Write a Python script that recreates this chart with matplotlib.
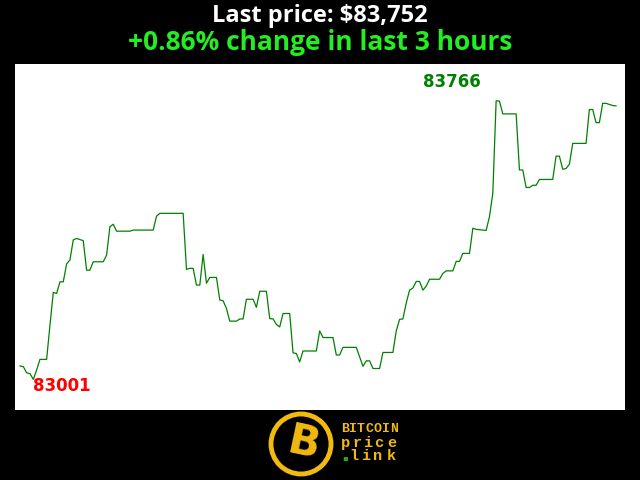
import matplotlib
matplotlib.use("Agg")
import matplotlib.pyplot as plt
from matplotlib.patches import Ellipse

# one price per minute over the last 3 hours (USD)
prices = [
    83038, 83036, 83019, 83017, 83001, 83027, 83056, 83056, 83056, 83150,
    83240, 83237, 83269, 83269, 83318, 83329, 83384, 83388, 83385, 83382,
    83301, 83301, 83324, 83324, 83324, 83324, 83342, 83420, 83427, 83408,
    83408, 83408, 83408, 83408, 83411, 83411, 83411, 83411, 83411, 83411,
    83411, 83449, 83457, 83457, 83457, 83457, 83457, 83457, 83457, 83457,
    83303, 83306, 83306, 83260, 83260, 83344, 83265, 83281, 83281, 83281,
    83219, 83217, 83196, 83161, 83161, 83161, 83167, 83167, 83221, 83221,
    83221, 83199, 83243, 83243, 83243, 83168, 83167, 83152, 83145, 83182,
    83182, 83182, 83074, 83072, 83049, 83079, 83079, 83079, 83079, 83079,
    83134, 83116, 83116, 83116, 83116, 83068, 83068, 83089, 83089, 83089,
    83089, 83089, 83063, 83037, 83052, 83052, 83031, 83031, 83031, 83075,
    83075, 83075, 83075, 83134, 83166, 83167, 83211, 83246, 83252, 83270,
    83270, 83246, 83257, 83276, 83276, 83276, 83276, 83292, 83299, 83299,
    83299, 83325, 83325, 83347, 83347, 83347, 83416, 83413, 83412, 83411,
    83410, 83448, 83512, 83766, 83765, 83730, 83730, 83730, 83730, 83730,
    83576, 83576, 83528, 83528, 83534, 83534, 83550, 83550, 83550, 83550,
    83550, 83614, 83614, 83578, 83580, 83592, 83649, 83649, 83649, 83649,
    83649, 83742, 83742, 83706, 83706, 83759, 83759, 83756, 83753, 83752,
]
last_price = 83752
change_pct = 0.86
hours = 3

minutes = list(range(len(prices)))
lo = min(prices)
hi = max(prices)
i_lo = prices.index(lo)
i_hi = prices.index(hi)

fig = plt.figure(figsize=(6.4, 4.8), dpi=100, facecolor="black")
ax = fig.add_axes([15 / 640, 70 / 480, 610 / 640, 346 / 480])
ax.set_facecolor("white")
ax.plot(minutes, prices, color="green", linewidth=0.9)
ax.set_xlim(-1.5, 181.7)
ax.set_ylim(82917, 83867)
ax.set_xticks([])
ax.set_yticks([])
for s in ax.spines.values():
    s.set_visible(False)

ax.annotate(str(lo), (i_lo, lo), xytext=(0, 2), textcoords="offset points",
            ha="left", va="top", color="red", fontsize=12, fontweight="bold",
            family="DejaVu Sans")
ax.annotate(str(hi), (i_hi, hi), xytext=(-11, 7), textcoords="offset points",
            ha="right", va="bottom", color="green", fontsize=12, fontweight="bold",
            family="DejaVu Sans")

fig.text(0.5, 1 - 16 / 480, f"Last price: ${last_price:,}", color="white",
         ha="center", va="center", fontsize=17, fontweight="bold", family="Open Sans")
fig.text(0.5, 1 - 42 / 480, f"+{change_pct}% change in last {hours} hours", color="#22ee22",
         ha="center", va="center", fontsize=19, fontweight="bold", family="Open Sans")

# logo at the bottom
gold = "#f2b90f"
fig.patches.append(Ellipse((301 / 640, 36 / 480), 60 / 640, 60 / 480,
                           transform=fig.transFigure, facecolor="black",
                           edgecolor=gold, linewidth=3.5))
fig.text(303 / 640, 36 / 480, "B", color=gold, ha="center", va="center", fontsize=30,
         fontweight="bold", family="DejaVu Sans", rotation=-12)


def letters(word, xs, y, size):
    for ch, x in zip(word, xs):
        fig.text(x / 640, 1 - y / 480, ch, color=gold, ha="center", va="center",
                 fontsize=size, fontweight="bold", family="Liberation Mono")


letters("BITCOIN", [345, 353, 361, 369, 378, 386, 394], 429, 9.5)
letters("price", [345, 357, 368, 379, 392], 443, 11)
letters("link", [354, 366, 378, 391], 456, 11)
fig.text(345 / 640, 1 - 458 / 480, "\u25aa", color="#22aa22", ha="center", va="center",
         fontsize=6)

fig.savefig("out.png", dpi=100, facecolor="black")
